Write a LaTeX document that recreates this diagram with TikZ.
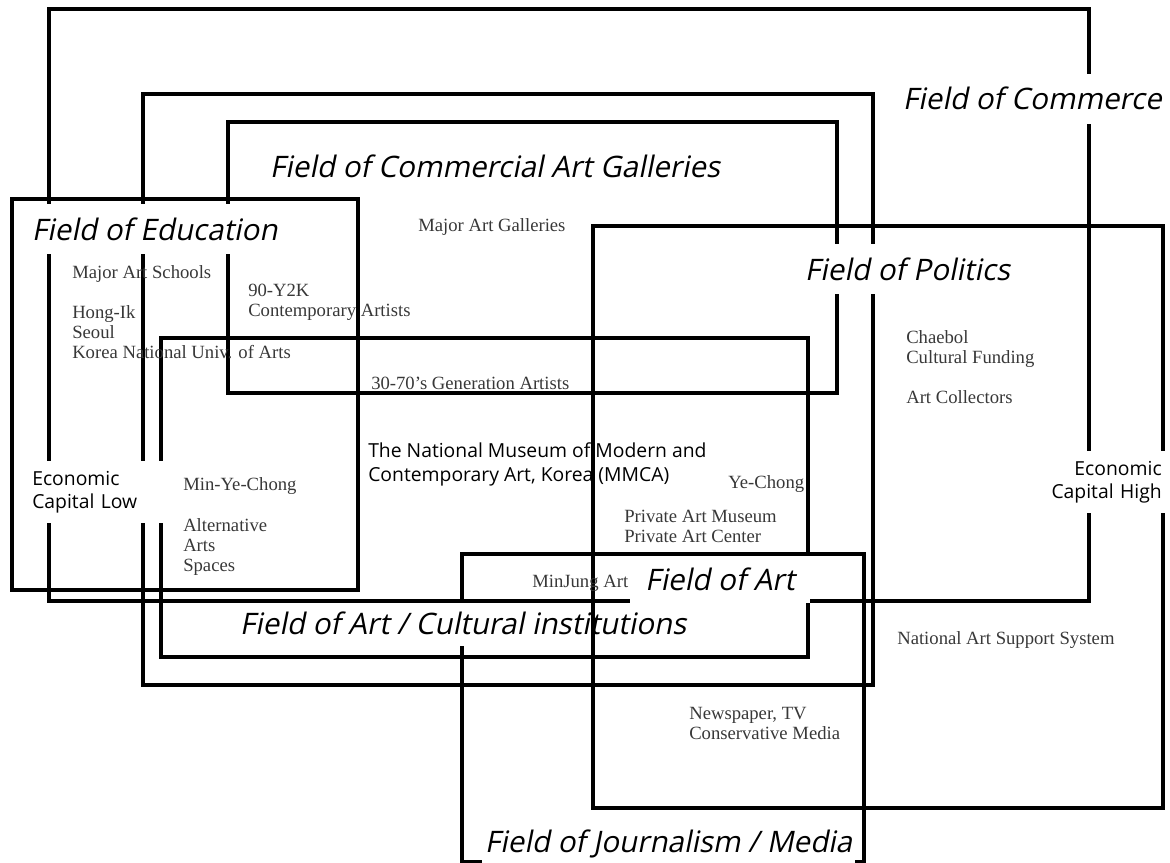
\documentclass[tikz,border=0pt]{standalone}
\usepackage{fontspec}
\setmainfont{Liberation Serif}
\newfontfamily\fieldfont[FakeSlant=0.2]{Open Sans}
\newfontfamily\capfont{Open Sans}

\begin{document}
\begin{tikzpicture}[x=0.75pt, y=-0.75pt,
    fieldbox/.style={line width=3pt},
    fieldlbl/.style={fill=white, inner sep=2pt, minimum height=37.5pt,
      font=\fieldfont\fontsize{22.2}{26}\selectfont},
    actor/.style={inner sep=0pt, anchor=base west, align=left, text=black!78,
      font=\fontsize{14}{15}\selectfont},
    capital/.style={fill=white, inner sep=3pt, minimum height=46.5pt,
      font=\capfont\fontsize{14.5}{17.25}\selectfont}]
  \useasboundingbox (0,0) rectangle (1170,863);

  \draw[fieldbox] (462,554) rectangle (864,862);
  \node[fieldlbl, minimum height=35.3pt, anchor=base west] (lArt) at (237,634)
       {Field of Art / Cultural institutions};
  \draw[fieldbox] (49,9)    rectangle (1089,601);
  \draw[fieldbox] (143,94)  rectangle (873,685);
  \draw[fieldbox] (228,122) rectangle (837,393);
  \draw[fieldbox] (12,199)  rectangle (358,590);
  \draw[fieldbox] (161,338) rectangle (808,657);
  \node[fieldlbl, minimum height=34.9pt, minimum width=135pt] (fArt) at (720,579.5)
       {Field of Art};
  \draw[fieldbox] (593,226) rectangle (1163,808);

  \node[fieldlbl, anchor=base west] (fCom)  at (900,110) {Field of Commerce};
  \node[fieldlbl, anchor=base west] (fGal)  at (267,177) {Field of Commercial Art Galleries};
  \node[fieldlbl, anchor=base west] (fEdu)  at (29,240)  {Field of Education};
  \node[fieldlbl, anchor=base west] (fPol)  at (802,280) {Field of Politics};
  \node[fieldlbl, anchor=base west] (fJour) at (482,852) {Field of Journalism / Media};

  \node[capital, text width=100pt, align=left, anchor=west] (capLow) at (28,492)
       {Economic\\Capital Low};
  \node[capital, text width=92pt, align=right, anchor=east] (capHigh) at (1166,482)
       {Economic\\Capital High};
  \node[inner sep=0pt, anchor=base west, align=left,
        font=\capfont\fontsize{14.5}{18}\selectfont] (mmca) at (368,481)
       {The National Museum of Modern and\\Contemporary Art, Korea (MMCA)};

  \node[actor] (schools)  at (72,278)  {Major Art Schools};
  \node[actor] (univs)    at (72,358)  {Hong-Ik\\Seoul\\Korea National Univ. of Arts};
  \node[actor] (y2k)      at (248,316) {90-Y2K\\Contemporary Artists};
  \node[actor] (galls)    at (418,231) {Major Art Galleries};
  \node[actor] (gen)      at (371,389) {30-70's Generation Artists};
  \node[actor] (minye)    at (183,490) {Min-Ye-Chong};
  \node[actor] (alt)      at (183,571) {Alternative\\Arts\\Spaces};
  \node[actor] (yechong)  at (728,488) {Ye-Chong};
  \node[actor] (private)  at (624,542) {Private Art Museum\\Private Art Center};
  \node[actor] (minjung)  at (532,587) {MinJung Art};
  \node[actor] (chaebol)  at (906,363) {Chaebol\\Cultural Funding};
  \node[actor] (collect)  at (906,403) {Art Collectors};
  \node[actor] (support)  at (897,644) {National Art Support System};
  \node[actor] (media)    at (689,739) {Newspaper, TV\\Conservative Media};
\end{tikzpicture}
\end{document}
